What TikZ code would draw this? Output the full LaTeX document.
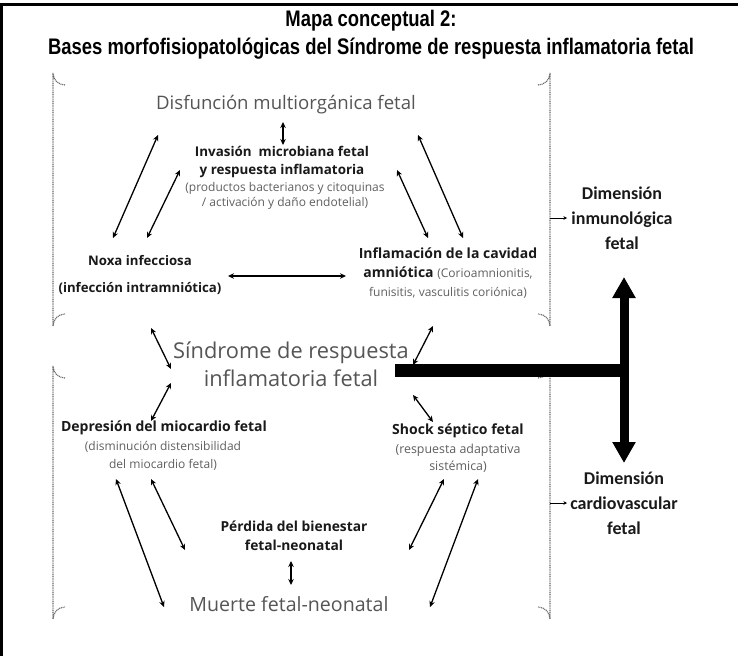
\documentclass[tikz,border=0pt]{standalone}
\usepackage{fontspec}
\setmainfont{Open Sans}
\newfontfamily\titlefont[FakeStretch=0.82]{Liberation Sans}
\newfontfamily\calfont{Carlito}
\usetikzlibrary{arrows.meta}
\definecolor{biggray}{RGB}{85,85,85}
\definecolor{smallgray}{RGB}{95,95,95}
\definecolor{labblack}{RGB}{25,25,25}
\definecolor{brk}{RGB}{105,105,105}
\tikzset{
  lbl/.style={align=center, inner sep=0pt, text=labblack, font=\bfseries\fontsize{13.4}{18}\selectfont},
  sub/.style={align=center, inner sep=0pt, text=smallgray, font=\fontsize{12}{15}\selectfont},
  big/.style={align=center, inner sep=0pt, text=biggray},
  dim/.style={align=center, inner sep=0pt, text=labblack, font=\calfont\bfseries\fontsize{18}{25}\selectfont},
  rel/.style={{Stealth[length=6pt,width=5.5pt]}-{Stealth[length=6pt,width=5.5pt]}, line width=1.3pt, black},
  bracket/.style={brk, line width=1.2pt, dash pattern=on 1pt off 0.8pt},
  small arrow/.style={-{Stealth[length=3.5pt,width=3.5pt]}, line width=0.7pt, black},
  thickbar/.style={line width=13pt, black},
  bigarrow/.style={{Triangle[length=21pt,width=22pt]}-{Triangle[length=21pt,width=22pt]}, line width=9pt, black},
  ttl/.style={inner sep=0pt, font=\titlefont\bfseries\fontsize{22.5}{28}\selectfont},
}
\begin{document}
\begin{tikzpicture}[x=1pt,y=-1pt]
\useasboundingbox (0,0) rectangle (738,656);
% frame
\draw[line width=3pt] (1.5,656) -- (1.5,4.5) -- (738,4.5);
% title
\node[ttl] (title1) at (371,21) {Mapa conceptual 2:};
\node[ttl] (title2) at (371,49) {Bases morfofisiopatológicas del Síndrome de respuesta inflamatoria fetal};
% brackets
\draw[bracket] (65,85) arc[start angle=90,end angle=180,radius=12] -- (53,326) arc[start angle=180,end angle=270,radius=12];
\draw[bracket] (538,85) arc[start angle=90,end angle=0,radius=12] -- (550,326) arc[start angle=0,end angle=-90,radius=12];
\draw[bracket] (65,378) arc[start angle=90,end angle=180,radius=12] -- (53,619) arc[start angle=180,end angle=270,radius=12];
\draw[bracket] (538,378) arc[start angle=90,end angle=0,radius=12] -- (550,619) arc[start angle=0,end angle=-90,radius=12];
% nodes
\node[big, font=\fontsize{18.6}{22}\selectfont] (disf) at (286,105) {Disfunción multiorgánica fetal};
\node[lbl] (inv) at (282,162) {Invasión\ \ microbiana fetal\\y respuesta inflamatoria};
\node[sub] (invsub) at (285,195.5) {(productos bacterianos y citoquinas\\/ activación y daño endotelial)};
\node[lbl, font=\bfseries\fontsize{13.2}{27}\selectfont] (noxa) at (140,275) {Noxa infecciosa\\(infección intramniótica)};
\node[lbl, font=\bfseries\fontsize{14}{19}\selectfont] (infl) at (448,273)
  {Inflamación de la cavidad\\amniótica {\mdseries\color{smallgray}\fontsize{12}{19}\selectfont(Corioamnionitis,}\\
   {\mdseries\color{smallgray}\fontsize{12}{19}\selectfont funisitis, vasculitis coriónica)}};
\node[big, font=\fontsize{21.8}{28}\selectfont] (sind) at (291,364) {Síndrome de respuesta\\inflamatoria fetal};
\node[lbl, font=\bfseries\fontsize{14}{18}\selectfont] (dep) at (164,428) {Depresión del miocardio fetal};
\node[sub, font=\fontsize{12}{18}\selectfont] (depsub) at (163,456) {(disminución distensibilidad\\del miocardio fetal)};
\node[lbl, font=\bfseries\fontsize{14}{18}\selectfont] (shock) at (458,431) {Shock séptico fetal};
\node[sub, font=\fontsize{12.4}{17}\selectfont] (shocksub) at (458,458.5) {(respuesta adaptativa\\sistémica)};
\node[lbl, font=\bfseries\fontsize{13.8}{19}\selectfont] (perd) at (294,535.5) {Pérdida del bienestar\\fetal-neonatal};
\node[big, font=\fontsize{19.6}{22}\selectfont] (muerte) at (289,604) {Muerte fetal-neonatal};
\node[dim] (inmuno) at (622,218) {Dimensión\\inmunológica\\fetal};
\node[dim] (cardio) at (624,503) {Dimensión\\cardiovascular\\fetal};
% arrow end coordinates
\coordinate (a1) at (158,135); \coordinate (a2) at (113,238);
\coordinate (b1) at (180,170); \coordinate (b2) at (147,238);
\coordinate (c1) at (397,170); \coordinate (c2) at (428,238);
\coordinate (d1) at (418,135); \coordinate (d2) at (463,238);
\coordinate (e1) at (283,122); \coordinate (e2) at (283,145);
\coordinate (f1) at (228,276); \coordinate (f2) at (346,276);
\coordinate (g1) at (151,328); \coordinate (g2) at (171,369);
\coordinate (h1) at (433,326); \coordinate (h2) at (413,365);
\coordinate (i1) at (171,383); \coordinate (i2) at (151,421);
\coordinate (j1) at (413,395); \coordinate (j2) at (433,422);
\coordinate (k1) at (116,479); \coordinate (k2) at (164,607);
\coordinate (l1) at (151,479); \coordinate (l2) at (185,550);
\coordinate (m1) at (444,479); \coordinate (m2) at (409,550);
\coordinate (n1) at (478,479); \coordinate (n2) at (430,607);
\coordinate (o1) at (291,561); \coordinate (o2) at (291,585);
\foreach \p in {a,b,c,d,e,f,g,h,i,j,k,l,m,n,o} \draw[rel] (\p1) -- (\p2);
% small arrows to dimensions
\coordinate (ub) at (550,218); \coordinate (ua) at (567,218);
\coordinate (lb) at (550,503); \coordinate (la) at (567,503);
\draw[small arrow] (ub) -- (ua);
\draw[small arrow] (lb) -- (la);
% thick connector
\coordinate (barL) at (395,370.5);
\coordinate (junc) at (628.5,370.5);
\coordinate (topTip) at (624,277);
\coordinate (botTip) at (624,463);
\draw[thickbar] (barL) -- (junc);
\draw[bigarrow] (topTip) -- (botTip);
\end{tikzpicture}
\end{document}
